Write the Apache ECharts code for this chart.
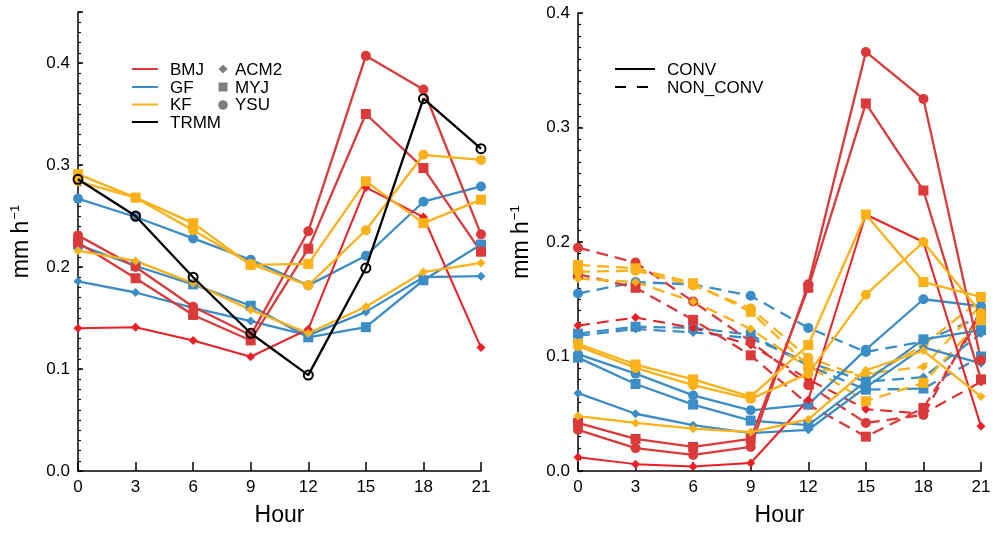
<!DOCTYPE html>
<html>
<head>
<meta charset="utf-8">
<script src="https://cdn.jsdelivr.net/npm/echarts@6/dist/echarts.min.js"></script>
<style>
  html, body { margin: 0; padding: 0; background: #fff; }
  #chart { width: 1003px; height: 533px; }
</style>
</head>
<body>
<div id="chart"></div>
<script>
// Diurnal cycle of precipitation (mm/h) at 3-hourly resolution
const hours = [0, 3, 6, 9, 12, 15, 18, 21];

// Left panel: total precipitation per cumulus / PBL scheme combination
const trmm   = [0.286, 0.250, 0.190, 0.135, 0.094, 0.199, 0.365, 0.316];
const bmjYsu = [0.231, 0.200, 0.161, 0.133, 0.235, 0.407, 0.374, 0.232];
const bmjMyj = [0.224, 0.189, 0.153, 0.128, 0.218, 0.350, 0.297, 0.215];
const bmjAcm = [0.140, 0.141, 0.128, 0.112, 0.139, 0.278, 0.249, 0.121];
const gfYsu  = [0.267, 0.249, 0.228, 0.207, 0.182, 0.211, 0.264, 0.279];
const gfMyj  = [0.222, 0.201, 0.183, 0.162, 0.131, 0.141, 0.187, 0.222];
const gfAcm  = [0.186, 0.175, 0.160, 0.147, 0.133, 0.156, 0.190, 0.191];
const kfYsu  = [0.284, 0.268, 0.236, 0.203, 0.182, 0.236, 0.310, 0.305];
const kfMyj  = [0.291, 0.268, 0.243, 0.202, 0.203, 0.284, 0.243, 0.266];
const kfAcm  = [0.216, 0.206, 0.184, 0.158, 0.135, 0.161, 0.195, 0.204];

// Right panel: convective part
const bmjYsuC = [0.036, 0.020, 0.014, 0.021, 0.163, 0.366, 0.325, 0.097];
const bmjMyjC = [0.042, 0.028, 0.021, 0.028, 0.160, 0.321, 0.245, 0.080];
const bmjAcmC = [0.012, 0.006, 0.004, 0.007, 0.062, 0.224, 0.200, 0.039];
const gfYsuC  = [0.102, 0.085, 0.066, 0.053, 0.058, 0.106, 0.150, 0.144];
const gfMyjC  = [0.099, 0.076, 0.058, 0.044, 0.040, 0.078, 0.115, 0.123];
const gfAcmC  = [0.068, 0.050, 0.040, 0.033, 0.036, 0.073, 0.108, 0.094];
const kfYsuC  = [0.109, 0.090, 0.075, 0.063, 0.085, 0.154, 0.200, 0.138];
const kfMyjC  = [0.111, 0.093, 0.080, 0.065, 0.110, 0.224, 0.165, 0.152];
const kfAcmC  = [0.048, 0.042, 0.037, 0.034, 0.045, 0.088, 0.105, 0.065];

// Right panel: non-convective part
const bmjYsuN = [0.195, 0.182, 0.148, 0.113, 0.075, 0.042, 0.049, 0.140];
const bmjMyjN = [0.172, 0.160, 0.132, 0.101, 0.058, 0.030, 0.055, 0.135];
const bmjAcmN = [0.127, 0.134, 0.125, 0.110, 0.080, 0.054, 0.050, 0.078];
const gfYsuN  = [0.155, 0.165, 0.163, 0.153, 0.125, 0.104, 0.113, 0.135];
const gfMyjN  = [0.120, 0.126, 0.125, 0.119, 0.092, 0.071, 0.072, 0.100];
const gfAcmN  = [0.118, 0.124, 0.121, 0.116, 0.095, 0.078, 0.082, 0.120];
const kfYsuN  = [0.174, 0.175, 0.162, 0.142, 0.099, 0.081, 0.110, 0.150];
const kfMyjN  = [0.180, 0.177, 0.164, 0.139, 0.092, 0.061, 0.077, 0.132];
const kfAcmN  = [0.168, 0.165, 0.148, 0.124, 0.090, 0.085, 0.091, 0.145];

const RED = '#dc3a3a', RED2 = '#ec1f24', BLUE = '#3b8dc7', ORANGE = '#fbb117', BLACK = '#000';
const SYM = { ysu: ['circle', 10], myj: ['rect', 10], acm: ['diamond', 9] };
const FONT = 'Liberation Sans, Arial, Helvetica, sans-serif';

function pairs(vals) { return hours.map((h, i) => [h, vals[i]]); }

function line(name, vals, color, pbl, dashed, panel, width) {
  const s = SYM[pbl];
  return {
    name: name, type: 'line', data: pairs(vals),
    xAxisIndex: panel, yAxisIndex: panel * 2,
    symbol: s[0], symbolSize: s[1], showSymbol: true,
    lineStyle: { color: color, width: width || 2.3, type: dashed ? [12, 7] : 'solid' },
    itemStyle: { color: color },
    animation: false, silent: true, clip: true
  };
}

const series = [
  line('GF-ACM2', gfAcm, BLUE, 'acm', false, 0),
  line('GF-MYJ', gfMyj, BLUE, 'myj', false, 0),
  line('GF-YSU', gfYsu, BLUE, 'ysu', false, 0),
  line('BMJ-ACM2', bmjAcm, RED2, 'acm', false, 0, 2),
  line('BMJ-MYJ', bmjMyj, RED, 'myj', false, 0),
  line('BMJ-YSU', bmjYsu, RED, 'ysu', false, 0),
  line('KF-ACM2', kfAcm, ORANGE, 'acm', false, 0),
  line('KF-MYJ', kfMyj, ORANGE, 'myj', false, 0),
  line('KF-YSU', kfYsu, ORANGE, 'ysu', false, 0),
  {
    name: 'TRMM', type: 'line', data: pairs(trmm), xAxisIndex: 0, yAxisIndex: 0,
    symbol: 'circle', symbolSize: 9, showSymbol: true,
    lineStyle: { color: BLACK, width: 2.3 },
    itemStyle: { color: 'rgba(0,0,0,0)', borderColor: BLACK, borderWidth: 2 },
    animation: false, silent: true, z: 5
  },
  // non-convective (dashed)
  line('GF-ACM2 NC', gfAcmN, BLUE, 'acm', true, 1),
  line('GF-MYJ NC', gfMyjN, BLUE, 'myj', true, 1),
  line('GF-YSU NC', gfYsuN, BLUE, 'ysu', true, 1),
  line('BMJ-ACM2 NC', bmjAcmN, RED2, 'acm', true, 1, 2),
  line('BMJ-MYJ NC', bmjMyjN, RED, 'myj', true, 1),
  line('BMJ-YSU NC', bmjYsuN, RED, 'ysu', true, 1),
  line('KF-ACM2 NC', kfAcmN, ORANGE, 'acm', true, 1),
  line('KF-MYJ NC', kfMyjN, ORANGE, 'myj', true, 1),
  line('KF-YSU NC', kfYsuN, ORANGE, 'ysu', true, 1),
  // convective (solid)
  line('GF-ACM2 C', gfAcmC, BLUE, 'acm', false, 1),
  line('GF-MYJ C', gfMyjC, BLUE, 'myj', false, 1),
  line('GF-YSU C', gfYsuC, BLUE, 'ysu', false, 1),
  line('BMJ-ACM2 C', bmjAcmC, RED2, 'acm', false, 1, 2),
  line('BMJ-MYJ C', bmjMyjC, RED, 'myj', false, 1),
  line('BMJ-YSU C', bmjYsuC, RED, 'ysu', false, 1),
  line('KF-ACM2 C', kfAcmC, ORANGE, 'acm', false, 1),
  line('KF-MYJ C', kfMyjC, ORANGE, 'myj', false, 1),
  line('KF-YSU C', kfYsuC, ORANGE, 'ysu', false, 1)
];

function xAxis(grid) {
  return {
    type: 'value', gridIndex: grid, min: 0, max: 21, interval: 3,
    name: 'Hour', nameLocation: 'middle', nameGap: 33,
    nameTextStyle: { fontSize: 23, color: '#000', fontFamily: FONT },
    axisLine: { show: true, onZero: false, lineStyle: { color: '#000', width: 1.5 } },
    axisTick: { show: true, inside: true, length: 9, lineStyle: { color: '#000', width: 1.5 } },
    axisLabel: { fontSize: 17, color: '#000', margin: 8, fontFamily: FONT },
    splitLine: { show: false }
  };
}

function tenthLabel(v) {
  return Math.abs(v * 10 - Math.round(v * 10)) < 1e-6 ? v.toFixed(1) : '';
}

function yMain(grid, max) {
  return {
    type: 'value', gridIndex: grid, min: 0, max: max, interval: 0.1,
    name: 'mm h{s|\u22121}', nameLocation: 'middle', nameGap: 44, nameRotate: 90,
    nameTextStyle: {
      fontSize: 23, color: '#000', fontFamily: FONT,
      rich: { s: { fontSize: 13, color: '#000', fontFamily: FONT, verticalAlign: 'top', padding: [0, 0, 12, 1] } }
    },
    axisLine: { show: true, onZero: false, lineStyle: { color: '#000', width: 1.5 } },
    axisTick: { show: true, inside: true, length: 5, lineStyle: { color: '#000', width: 1.5 } },
    axisLabel: { fontSize: 17, color: '#000', margin: 8, fontFamily: FONT, formatter: tenthLabel },
    splitLine: { show: false }
  };
}

function yMinor(grid, max) {
  return {
    type: 'value', gridIndex: grid, min: 0, max: max, interval: 0.01, position: 'left',
    axisLine: { show: false },
    axisTick: { show: true, inside: true, length: 3, lineStyle: { color: '#000', width: 1.2 } },
    axisLabel: { show: false },
    splitLine: { show: false }
  };
}

// Legend drawings (key only, no data)
function keyLine(x1, x2, y, color, dashed) {
  return { type: 'line', shape: { x1: x1, y1: y, x2: x2, y2: y },
    style: { stroke: color, lineWidth: 2, lineDash: dashed ? [11, 11] : null }, silent: true };
}
function keyText(x, y, t) {
  return { type: 'text', x: x, y: y,
    style: { text: t, fill: '#000', font: '17px ' + FONT, textVerticalAlign: 'middle' }, silent: true };
}
const GREY = '#7f7f7f';
const graphics = [
  keyLine(132, 158, 69, RED), keyText(170, 70, 'BMJ'),
  keyLine(132, 158, 87, BLUE), keyText(170, 88, 'GF'),
  keyLine(132, 158, 104.5, ORANGE), keyText(170, 105.5, 'KF'),
  keyLine(132, 158, 122, BLACK), keyText(170, 123, 'TRMM'),
  { type: 'polygon', shape: { points: [[223, 64.5], [227.5, 69], [223, 73.5], [218.5, 69]] }, style: { fill: GREY }, silent: true },
  keyText(235, 70, 'ACM2'),
  { type: 'rect', shape: { x: 218.5, y: 82.5, width: 9, height: 9 }, style: { fill: GREY }, silent: true },
  keyText(235, 88, 'MYJ'),
  { type: 'circle', shape: { cx: 223, cy: 105, r: 4.8 }, style: { fill: GREY }, silent: true },
  keyText(235, 105.5, 'YSU'),
  keyLine(615, 655, 69, BLACK), keyText(667, 70, 'CONV'),
  keyLine(615, 655, 87, BLACK, true), keyText(667, 88, 'NON_CONV')
];

const chart = echarts.init(document.getElementById('chart'), null, { renderer: 'canvas' });
chart.setOption({
  animation: false,
  backgroundColor: '#fff',
  textStyle: { fontFamily: FONT },
  grid: [
    { left: 78, width: 403, top: 12, height: 459 },
    { left: 578, width: 403, top: 13, height: 458 }
  ],
  xAxis: [xAxis(0), xAxis(1)],
  yAxis: [yMain(0, 0.45), yMinor(0, 0.45), yMain(1, 0.4), yMinor(1, 0.4)],
  series: series,
  graphic: graphics
});
</script>
</body>
</html>
